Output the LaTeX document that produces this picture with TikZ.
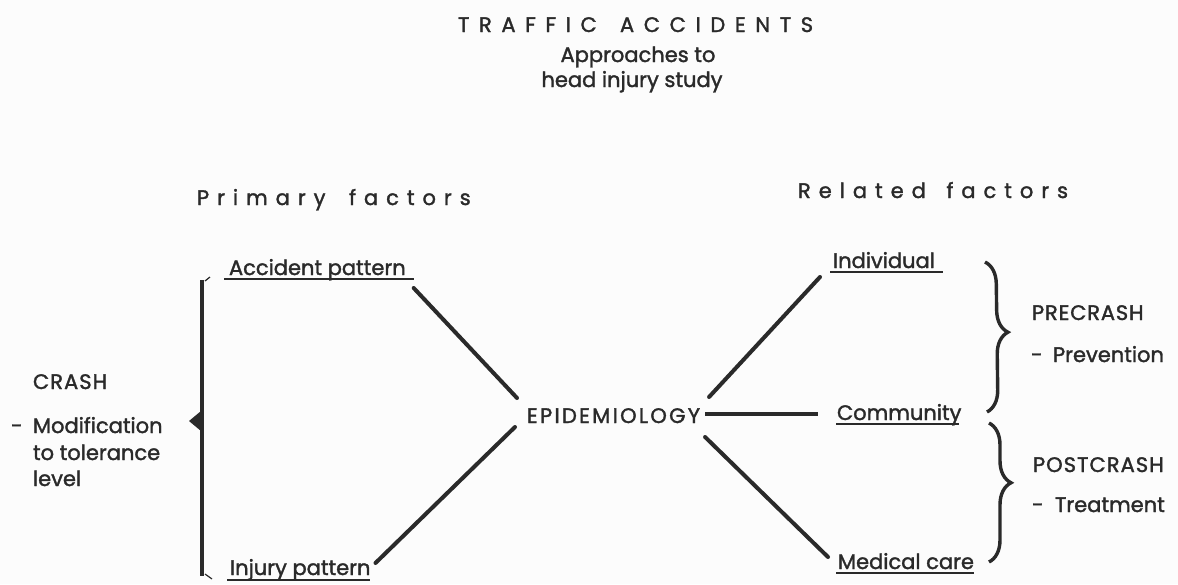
\documentclass[tikz,border=0pt]{standalone}
\usepackage{fontspec}
\setmainfont{Poppins}[FakeBold=1.6]
\usetikzlibrary{decorations.pathreplacing}
\definecolor{ink}{HTML}{2A2A2A}
\definecolor{paper}{HTML}{FCFCFC}
\begin{document}
\begin{tikzpicture}[x=1pt,y=-1pt,
  every node/.style={inner sep=0pt,outer sep=0pt,text=ink},
  txt/.style={font=\fontsize{21}{25}\selectfont,anchor=base west},
  caps/.style={font=\fontsize{21}{25}\selectfont\addfontfeature{LetterSpace=#1},anchor=base west},
  hd/.style={font=\fontsize{21}{25}\selectfont\addfontfeature{LetterSpace=38},anchor=base west},
  ttl/.style={font=\fontsize{21}{25}\selectfont\addfontfeature{LetterSpace=46}},
  sub/.style={font=\fontsize{21}{25}\selectfont,anchor=base},
  conn/.style={draw=ink,line width=4pt,line cap=round},
  ul/.style={draw=ink,line width=1.6pt},
  bracestyle/.style={draw=ink,line width=3.4pt,decorate,decoration={brace,amplitude=22pt,aspect=#1}}
]
\fill[paper] (0,0) rectangle (1178,584);
\useasboundingbox (0,0) rectangle (1178,584);

% title
\node[ttl,anchor=base west] (title1) at (458,32) {TRAFFIC};
\node[ttl,anchor=base west] (title2) at (620,32) {ACCIDENTS};
\node[sub] (sub1) at (638,62) {Approaches to};
\node[sub] (sub2) at (632,87) {head injury study};

% headings
\node[hd] (prim) at (197,205) {Primary\hspace{10pt} factors};
\node[hd] (rel) at (798,198) {Related\hspace{7pt} factors};

% nodes
\node[txt] (acc) at (229,275) {Accident pattern};
\node[txt] (inj) at (230,575) {Injury pattern};
\node[caps=11] (epi) at (527,423) {EPIDEMIOLOGY};
\node[txt] (ind) at (833,268) {Individual};
\node[txt] (com) at (837,420) {Community};
\node[txt] (med) at (838,569) {Medical care};

% left text
\node[caps=5] (crash) at (33,389) {CRASH};
\node[txt] (dash1) at (11,433) {-};
\node[txt] (mod) at (33,433) {Modification};
\node[txt] (tol) at (33,460) {to tolerance};
\node[txt] (lev) at (33,486) {level};

% right text
\node[caps=4] (pre) at (1032,320) {PRECRASH};
\node[txt] (dash2) at (1031,362) {-};
\node[txt] (prev) at (1053,362) {Prevention};
\node[caps=5] (post) at (1033,472) {POSTCRASH};
\node[txt] (dash3) at (1032,512) {-};
\node[txt] (treat) at (1055,512) {Treatment};

% underlines
\draw[ul] ([shift={(-5,4)}]acc.base west) -- ([shift={(8,4)}]acc.base east);
\draw[ul] ([shift={(-3,5)}]inj.base west) -- ([shift={(0,5)}]inj.base east);
\draw[ul] ([shift={(-3,4)}]ind.base west) -- ([shift={(8,4)}]ind.base east);
\draw[ul] ([shift={(-1,4)}]com.base west) -- ([shift={(-2,4)}]com.base east);
\draw[ul] ([shift={(-2,4)}]med.base west) -- ([shift={(0,4)}]med.base east);

% connectors
\draw[conn] ([shift={(8,13)}]acc.base east) -- ([shift={(-10,-25)}]epi.base west);
\draw[conn] ([shift={(5,-12)}]inj.base east) -- ([shift={(-12,4)}]epi.base west);
\draw[conn] ([shift={(9,-26)}]epi.base east) -- ([shift={(-13,9)}]ind.base west);
\draw[conn,line cap=butt] ([shift={(5,-9)}]epi.base east) -- ([shift={(-19,-6)}]com.base west);
\draw[conn] ([shift={(5,14)}]epi.base east) -- ([shift={(-10,-12)}]med.base west);

% left bracket
\draw[draw=ink,line width=3.5pt] (202,280) -- (202,576);
\draw[draw=ink,line width=1.2pt] (205,281) -- (210,277);
\draw[draw=ink,line width=1.2pt] (205,574) -- (212,579);
\fill[ink] (189,421) -- (201,411) -- (201,431) -- cycle;

% right braces
\draw[bracestyle=0.47] (985,262) -- (987,412);
\draw[bracestyle=0.43] (989,423) -- (989,562);
\end{tikzpicture}
\end{document}
